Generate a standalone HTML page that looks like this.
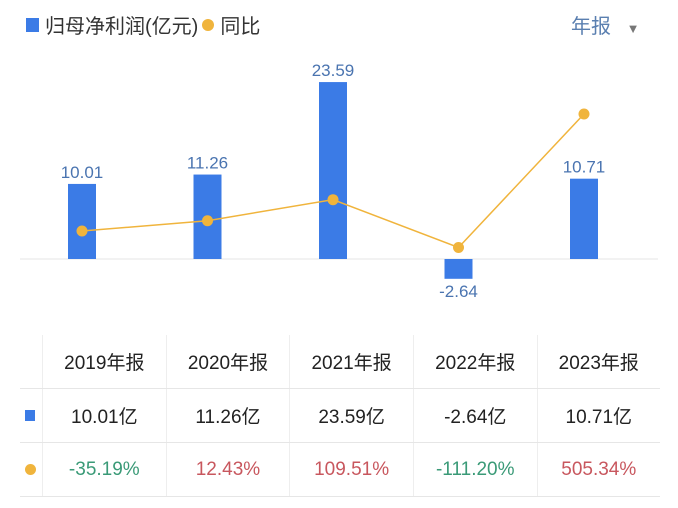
<!DOCTYPE html>
<html><head><meta charset="utf-8"><style>
body{margin:0;width:678px;height:508px;background:#fff;font-family:"Liberation Sans","Noto Sans CJK SC",sans-serif;overflow:hidden;position:relative}
.abs{position:absolute}
table{position:absolute;left:20px;top:335px;border-collapse:collapse;width:640px}
td{height:53px;text-align:center;font-size:19px;color:#222;border-bottom:1px solid #e6e6e6;border-left:1px solid #eee;padding:0}
td:first-child{border-left:none;width:22px;text-align:left}
tr:first-child td{border-bottom:1px solid #e6e6e6}
.g{color:#3a9a77}.r{color:#c8575e}
</style></head><body>
<div class="abs" style="left:26px;top:10px;font-size:20px;color:#333;display:flex;align-items:center">
<span style="width:13px;height:14px;background:#3b7be6;display:inline-block;margin-right:6px"></span><span>归母净利润(亿元)</span>
<span style="width:12px;height:12px;border-radius:50%;background:#f0b43c;display:inline-block;margin:0 6px 0 4px"></span><span>同比</span></div>
<div class="abs" style="left:571px;top:10px;font-size:20px;color:#5a7fb0">年报 <span style="font-size:13px;color:#777;margin-left:10px">▼</span></div>
<svg class="abs" style="left:0;top:0" width="678" height="330" id="chart"></svg>
<table>
<tr><td></td><td>2019年报</td><td>2020年报</td><td>2021年报</td><td>2022年报</td><td>2023年报</td></tr>
<tr><td><span style="display:inline-block;width:10px;height:11px;background:#3b7be6;margin-left:5px"></span></td><td>10.01亿</td><td>11.26亿</td><td>23.59亿</td><td>-2.64亿</td><td>10.71亿</td></tr>
<tr><td><span style="display:inline-block;width:11px;height:11px;border-radius:50%;background:#f0b43c;margin-left:5px"></span></td><td class="g">-35.19%</td><td class="r">12.43%</td><td class="r">109.51%</td><td class="g">-111.20%</td><td class="r">505.34%</td></tr>
</table>
<script>
const categories=["2019","2020","2021","2022","2023"];
const profit=[10.01,11.26,23.59,-2.64,10.71];
const growth=[-35.19,12.43,109.51,-111.20,505.34];
const NS="http://www.w3.org/2000/svg";
const svg=document.getElementById('chart');
const x=i=>82+i*125.5;
const yb=v=>259-v*7.5;
const yl=v=>223.4-v*0.2165;
function mk(t,a){const e=document.createElementNS(NS,t);for(const k in a)e.setAttribute(k,a[k]);svg.appendChild(e);return e;}
const ax=mk('line',{x1:20,x2:658,y1:259,y2:259,stroke:'#e4e4e4','stroke-width':1});


profit.forEach((v,i)=>{
 const r=mk('rect',{x:x(i)-14,width:28,y:Math.min(yb(v),259),height:Math.abs(yb(v)-259),fill:'#3b7be6'});
 
 
 const t=mk('text',{x:x(i),y:v>=0?yb(v)-6:yb(v)+18,'text-anchor':'middle','font-size':17,fill:'#4a74b0','font-family':'Liberation Sans, sans-serif'});
 t.textContent=v.toFixed(2);
 
 
});
const pl=mk('polyline',{points:growth.map((v,i)=>x(i)+','+yl(v)).join(' '),fill:'none',stroke:'#f0b43c','stroke-width':1.5});


growth.forEach((v,i)=>{
 const c=mk('circle',{cx:x(i),cy:yl(v),r:5.5,fill:'#f0b43c'});
 
 
});
</script>
</body></html>
